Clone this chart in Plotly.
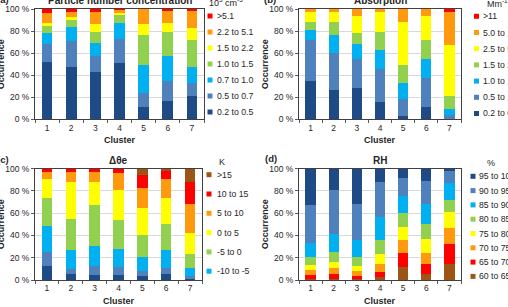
import plotly.graph_objects as go

W, H = 508, 307

clusters = ["1", "2", "3", "4", "5", "6", "7"]

# Colours
DARK = "#1E4B85"
MID = "#4F81BD"
CYAN = "#00B0F0"
GREEN = "#92D050"
YELLOW = "#FFFF00"
ORANGE = "#FF9A0F"
RED = "#FF0000"
BROWN = "#9C5514"

# ---------------- (a) Particle number concentration (bottom -> top)
a_labels = ["0.2 to 0.5", "0.5 to 0.7", "0.7 to 1.0", "1.0 to 1.5", "1.5 to 2.2", "2.2 to 5.1", ">5.1"]
a_colors = [DARK, MID, CYAN, GREEN, YELLOW, ORANGE, RED]
a_02_05 = [52, 47, 42.5, 51, 11, 16.5, 21]
a_05_07 = [16.5, 24, 15, 22, 12.5, 18, 11.5]
a_07_10 = [9.5, 13, 11.5, 14, 25.5, 23, 15]
a_10_15 = [6.5, 6, 10, 8, 27.5, 21.5, 24]
a_15_22 = [3, 2.5, 7.5, 1.5, 10, 8.5, 11.5]
a_22_51 = [8.5, 5, 10.5, 3, 13.5, 10.5, 15]
a_gt51 = [4, 2.5, 3, 0.5, 0, 2, 2]
a_values = [a_02_05, a_05_07, a_07_10, a_10_15, a_15_22, a_22_51, a_gt51]

# ---------------- (b) Absorption (bottom -> top)
b_labels = ["0.2 to 0", "0.5 to 1", "1.0 to 1", "1.5 to 2", "2.5 to 5", "5.0 to 1", ">11"]
b_colors = [DARK, MID, CYAN, GREEN, YELLOW, ORANGE, RED]
b_1 = [35, 27, 28, 16, 3, 11, 0.5]
b_2 = [37, 33, 26.5, 29.5, 15, 26.5, 3.5]
b_3 = [9, 16, 13.5, 17.5, 15, 17, 5.5]
b_4 = [7.5, 12, 10.5, 16.5, 16, 17.5, 11.5]
b_5 = [8.5, 9, 15.5, 17.5, 39.5, 22, 46.5]
b_6 = [3, 3, 6, 3, 11.5, 6, 29.5]
b_7 = [0, 0, 0, 0, 0, 0, 3]
b_values = [b_1, b_2, b_3, b_4, b_5, b_6, b_7]

# ---------------- (c) Delta theta_e (bottom -> top)
c_labels = ["< -15", "-15 to -10", "-10 to -5", "-5 to 0", "0 to 5", "5 to 10", "10 to 15", ">15"]
c_colors = [DARK, MID, CYAN, GREEN, YELLOW, ORANGE, RED, BROWN]
c_1 = [13, 5.5, 4.5, 4.5, 4, 5, 2]
c_2 = [12, 4, 8, 7, 4.5, 5.5, 1.5]
c_3 = [23.5, 17.5, 18.5, 16.5, 12.5, 16.5, 7.5]
c_4 = [25.5, 28, 36.5, 26, 19, 23, 12]
c_5 = [17, 33, 20.5, 27, 24.5, 24, 19]
c_6 = [6, 9, 9, 15, 18.5, 16.5, 26.5]
c_7 = [3, 3, 3, 4, 11.5, 7.5, 20]
c_8 = [0, 0, 0, 0, 5.5, 2, 11.5]
c_values = [c_1, c_2, c_3, c_4, c_5, c_6, c_7, c_8]
c_legend_shown = [">15", "10 to 15", "5 to 10", "0 to 5", "-5 to 0", "-10 to -5"]

# ---------------- (d) RH (bottom -> top)
d_labels = ["60 to 65", "65 to 70", "70 to 75", "75 to 80", "80 to 85", "85 to 90", "90 to 95", "95 to 10"]
d_colors = [BROWN, RED, ORANGE, YELLOW, GREEN, CYAN, MID, DARK]
d_60 = [1, 1, 1, 3, 12, 5.5, 14.5]
d_65 = [3.5, 4.5, 3, 4, 12, 9, 18]
d_70 = [4.5, 5.5, 4, 7, 11.5, 10, 14.5]
d_75 = [4.5, 5.5, 4.5, 9.5, 12.5, 12.5, 14]
d_80 = [7.5, 9, 8.5, 12.5, 12, 13, 11]
d_85 = [12.5, 16, 14.5, 20.5, 15.5, 18.5, 15.5]
d_90 = [33.5, 39.5, 32.5, 32, 16, 20.5, 10]
d_95 = [33, 19, 32, 11.5, 8.5, 11, 2.5]
d_values = [d_60, d_65, d_70, d_75, d_80, d_85, d_90, d_95]

titles = ["Particle number concentration", "Absorption", "\u0394\u03b8e", "RH"]
panel_tags = ["(a)", "(b)", "(c)", "(d)"]
units = ["10<sup>3</sup> cm<sup>-3</sup>", "Mm<sup>-1</sup>", "K", "%"]

FONT = "Liberation Sans, Arial, sans-serif"
TXT = "#262626"

def px(x):
    return x / W

def py(y):
    return 1 - y / H

# plot-area boxes in pixels: (left, right, top, bottom)
boxes = [(35, 204, 9, 119.3), (299, 461, 9, 119.3), (35, 202, 168.7, 280), (299, 461, 168.7, 280)]

fig = go.Figure()
panels = [
    (a_labels, a_colors, a_values),
    (b_labels, b_colors, b_values),
    (c_labels, c_colors, c_values),
    (d_labels, d_colors, d_values),
]

layout = dict()
annotations = []
shapes = []

for i, (labels, colors, values) in enumerate(panels):
    n = i + 1
    xa = "x" if n == 1 else f"x{n}"
    ya = "y" if n == 1 else f"y{n}"
    for lab, col, vals in zip(labels, colors, values):
        fig.add_trace(go.Bar(
            x=clusters, y=vals, name=lab, marker=dict(color=col, line=dict(width=0)),
            width=0.44, xaxis=xa, yaxis=ya, showlegend=False,
        ))
    l, r, t, b = boxes[i]
    xkey = "xaxis" if n == 1 else f"xaxis{n}"
    ykey = "yaxis" if n == 1 else f"yaxis{n}"
    layout[xkey] = dict(
        domain=[px(l), px(r)], anchor=ya, type="category", tickson="boundaries",
        ticks="outside", ticklen=3, tickcolor="#595959", showline=True, mirror=True,
        linecolor="#404040", linewidth=1, showgrid=False, automargin=False,
        tickfont=dict(family=FONT, size=8.5, color=TXT),
    )
    layout[ykey] = dict(
        domain=[py(b), py(t)], anchor=xa, range=[0, 100], dtick=20, ticksuffix=" %",
        ticks="outside", ticklen=3, tickcolor="#595959", showline=True, mirror=True,
        linecolor="#404040", linewidth=1, showgrid=True, gridcolor="#D9D9D9", gridwidth=1,
        zeroline=False, automargin=False, tickfont=dict(family=FONT, size=8.5, color=TXT),
    )
    cx = (l + r) / 2
    cy = (t + b) / 2
    # title
    annotations.append(dict(
        text=f"<b>{titles[i]}</b>", x=px(cx), y=py(t - 8.5), xref="paper", yref="paper",
        xanchor="center", yanchor="middle", showarrow=False,
        font=dict(family=FONT, size=10, color=TXT),
    ))
    # x axis title
    annotations.append(dict(
        text="<b>Cluster</b>", x=px(cx), y=py(b + 21), xref="paper", yref="paper",
        xanchor="center", yanchor="middle", showarrow=False,
        font=dict(family=FONT, size=9, color=TXT),
    ))
    # y axis title
    annotations.append(dict(
        text="<b>Occurrence</b>", x=px(l - 34), y=py(cy), xref="paper", yref="paper",
        xanchor="center", yanchor="middle", showarrow=False, textangle=-90,
        font=dict(family=FONT, size=9, color=TXT),
    ))

# panel tags
tag_pos = [(11, -1, "right"), (262, -1, "left"), (11, 159, "right"), (263, 158, "left")]
for tag, (x, y, anc) in zip(panel_tags, tag_pos):
    annotations.append(dict(
        text=f"<b>{tag}</b>", x=px(x), y=py(y), xref="paper", yref="paper",
        xanchor=anc, yanchor="middle", showarrow=False,
        font=dict(family=FONT, size=9.5, color=TXT),
    ))

# units
unit_pos = [(207, 2, "left"), (485, 3, "left"), (222, 162, "center"), (491, 163, "center")]
for u, (x, y, anc) in zip(units, unit_pos):
    annotations.append(dict(
        text=u, x=px(x), y=py(y), xref="paper", yref="paper",
        xanchor=anc, yanchor="middle", showarrow=False,
        font=dict(family=FONT, size=9, color=TXT),
    ))

# custom legends (top -> bottom): marker x, text x, first y, step
legend_geom = [(207.5, 214.5, 16, 16), (474, 480.5, 16.3, 16.2), (206.5, 214.5, 174.7, 19.3), (470.5, 476.5, 176.3, 14.3)]
legend_items = [
    list(zip(a_labels, a_colors))[::-1],
    list(zip(b_labels, b_colors))[::-1],
    [(lab, col) for lab, col in list(zip(c_labels, c_colors))[::-1] if lab in c_legend_shown],
    list(zip(d_labels, d_colors))[::-1],
]
MS = 5
for items, (mx, tx, y0, step) in zip(legend_items, legend_geom):
    for k, (lab, col) in enumerate(items):
        yc = y0 + k * step
        shapes.append(dict(
            type="rect", xref="paper", yref="paper",
            x0=px(mx), x1=px(mx + MS), y0=py(yc + MS / 2), y1=py(yc - MS / 2),
            fillcolor=col, line=dict(width=0),
        ))
        annotations.append(dict(
            text=lab, x=px(tx), y=py(yc), xref="paper", yref="paper",
            xanchor="left", yanchor="middle", showarrow=False,
            font=dict(family=FONT, size=8.7, color=TXT),
        ))

fig.update_layout(
    **layout,
    barmode="stack",
    width=W, height=H,
    margin=dict(l=0, r=0, t=0, b=0, autoexpand=False),
    paper_bgcolor="white", plot_bgcolor="white",
    annotations=annotations, shapes=shapes,
    showlegend=False,
)

fig.write_html("out.html", config={"displayModeBar": False})
